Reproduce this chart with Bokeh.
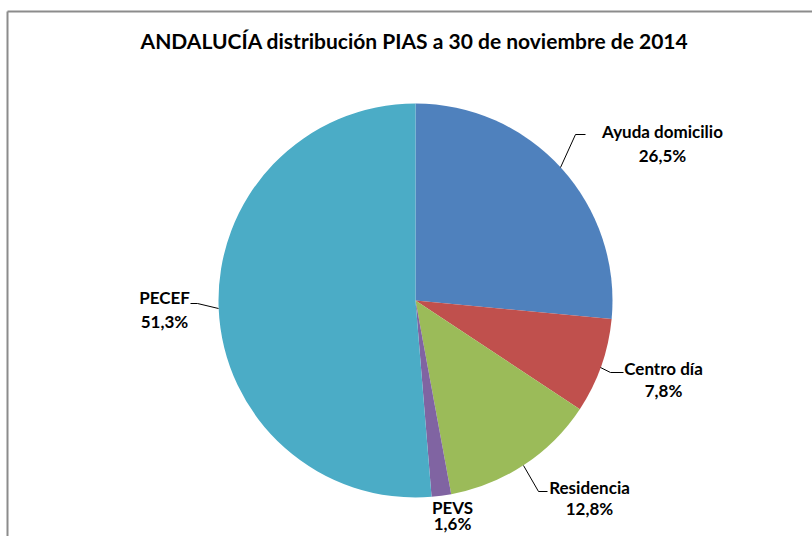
from bokeh.plotting import figure
from bokeh.models import Range1d, ColumnDataSource
from bokeh.core.properties import value
from bokeh.embed import file_html
from bokeh.resources import INLINE
import math

title_text = "ANDALUCÍA distribución PIAS a 30 de noviembre de 2014"
categories = ["Ayuda domicilio", "Centro día", "Residencia", "PEVS", "PECEF"]
percentages = [26.5, 7.8, 12.8, 1.6, 51.3]
colors = ["#4F81BD", "#C0504D", "#9BBB59", "#8064A2", "#4BACC6"]

W, H = 812, 536
FONT = "Lato"

p = figure(width=W, height=H, output_backend="svg", toolbar_location=None,
           x_range=Range1d(0, W), y_range=Range1d(0, H),
           min_border=0)
p.axis.visible = False
p.grid.visible = False
p.outline_line_color = None
p.background_fill_color = "white"
p.border_fill_color = "white"

def sy(y):  # screen y -> data y
    return H - y

def sx(x):
    return x

# frame (cropped: only left and top visible)
p.line([sx(7), sx(7)], [sy(11), sy(560)], line_color="#8c8c8c", line_width=2)
p.line([sx(7), sx(840)], [sy(11), sy(11)], line_color="#8c8c8c", line_width=2)

cx, cy, r = sx(415), sy(300), 197
total = sum(percentages)
starts, ends = [], []
cum = 0.0
for v in percentages:
    starts.append(math.pi / 2 - cum / total * 2 * math.pi)
    cum += v
    ends.append(math.pi / 2 - cum / total * 2 * math.pi)

src = ColumnDataSource(dict(start=starts, end=ends, color=colors))
p.wedge(x=cx, y=cy, radius=r, start_angle="start", end_angle="end",
        direction="clock", fill_color="color", line_color=None, source=src)

# title
p.text(x=[sx(414)], y=[sy(40)], text=[title_text], text_font=value(FONT),
       text_font_style="bold", text_font_size="21px", text_align="center",
       text_baseline="middle", text_color="black")

# labels
label_pos = [(662, 131, 155), (663, 368, 390), (589, 487, 508), (452, 507, 523), (164, 297, 321)]
names = [c for c in categories]
pcts = [("%.1f" % v).replace(".", ",") + "%" for v in percentages]
p.text(x=[sx(a) for a, b, c in label_pos], y=[sy(b) for a, b, c in label_pos], text=names,
       text_font=value(FONT), text_font_style="bold", text_font_size="17px",
       text_align="center", text_baseline="middle", text_color="black")
p.text(x=[sx(a) for a, b, c in label_pos], y=[sy(c) for a, b, c in label_pos], text=pcts,
       text_font=value(FONT), text_font_style="bold", text_font_size="17px",
       text_align="center", text_baseline="middle", text_color="black")

# leader lines
leaders = [
    [(585, 134), (575, 134), (560, 167)],
    [(623, 372), (610, 372), (600, 367)],
    [(547, 491), (538, 491), (523, 465)],
    [(190, 303), (197, 303), (218, 308)],
]
for seg in leaders:
    p.line([sx(x) for x, y in seg], [sy(y) for x, y in seg], line_color="black", line_width=1)

open("out.html", "w").write(file_html(p, INLINE))
